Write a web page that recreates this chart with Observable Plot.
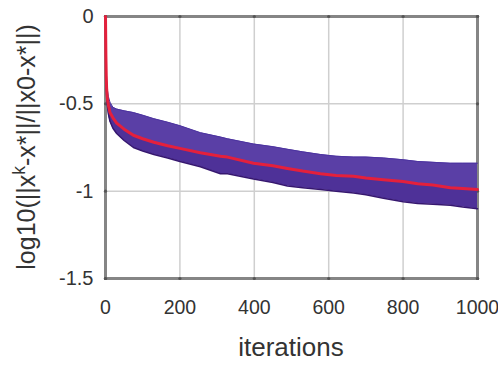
<!DOCTYPE html>
<html>
<head>
<meta charset="utf-8">
<script src="https://cdn.jsdelivr.net/npm/d3@7"></script>
<script src="https://cdn.jsdelivr.net/npm/@observablehq/plot@0.6"></script>
<style>
  html, body { margin: 0; padding: 0; background: white; }
  svg { display: block; }
</style>
</head>
<body>
<script>
// ---- data ----
const iterations = [0, 1, 2, 3, 5, 8, 12, 20, 30, 50, 75, 100, 130, 167, 200, 255, 309, 328, 398, 450, 489, 530, 578, 620, 667, 700, 747, 800, 839, 880, 927, 960, 1000];
const meanErr  = [0, -0.22, -0.34, -0.41, -0.47, -0.51, -0.55, -0.58, -0.61, -0.645, -0.68, -0.70, -0.72, -0.74, -0.755, -0.78, -0.80, -0.805, -0.84, -0.855, -0.87, -0.885, -0.90, -0.91, -0.915, -0.925, -0.935, -0.945, -0.957, -0.965, -0.98, -0.985, -0.99];
const upperErr = [0, -0.15, -0.28, -0.36, -0.42, -0.46, -0.49, -0.52, -0.53, -0.54, -0.55, -0.565, -0.585, -0.605, -0.625, -0.665, -0.69, -0.70, -0.73, -0.745, -0.76, -0.775, -0.79, -0.80, -0.805, -0.805, -0.81, -0.82, -0.83, -0.835, -0.84, -0.84, -0.84];
const lowerErr = [0, -0.30, -0.40, -0.45, -0.51, -0.56, -0.60, -0.64, -0.67, -0.71, -0.75, -0.77, -0.79, -0.81, -0.83, -0.86, -0.90, -0.90, -0.93, -0.95, -0.97, -0.98, -0.99, -1.00, -1.01, -1.02, -1.04, -1.06, -1.07, -1.075, -1.08, -1.09, -1.10];

const xTicks = [0, 200, 400, 600, 800, 1000];
const xTickLabels = ["0", "200", "400", "600", "800", "1000"];
const yTicks = [-1.5, -1, -0.5, 0];
const yTickLabels = ["-1.5", "-1", "-0.5", "0"];
const xTitle = "iterations";
const yTitleParts = ["log10(||x", "k", "-x*||/||x0-x*||)"];

const rows = iterations.map((it, i) => ({it, mean: meanErr[i], lo: lowerErr[i], hi: upperErr[i]}));
const font = "Liberation Sans, Arial, sans-serif";

const plot = Plot.plot({
  width: 498,
  height: 365,
  marginTop: 16,
  marginRight: 21,
  marginBottom: 87,
  marginLeft: 105,
  style: {background: "white", fontFamily: font, color: "#333"},
  x: {domain: [0, 1000]},
  y: {domain: [-1.5, 0]},
  marks: [
    Plot.gridX(xTicks, {stroke: "#cfcfcf", strokeOpacity: 1, strokeWidth: 1.5}),
    Plot.gridY(yTicks, {stroke: "#cfcfcf", strokeOpacity: 1, strokeWidth: 1.5}),
    Plot.frame({stroke: "#858585", strokeWidth: 3}),
    Plot.dot(xTicks, {x: d => d, y: -1.5, r: 1.6, fill: "#555", stroke: null}),
    Plot.dot(xTicks, {x: d => d, y: 0, r: 1.6, fill: "#555", stroke: null}),
    Plot.dot(yTicks, {x: 0, y: d => d, r: 1.6, fill: "#555", stroke: null}),
    Plot.dot(yTicks, {x: 1000, y: d => d, r: 1.6, fill: "#555", stroke: null}),
    Plot.axisX(xTicks, {tickSize: 0, tickPadding: 22, fontSize: 19.5, fill: "#333", label: null,
      tickFormat: d => xTickLabels[xTicks.indexOf(d)]}),
    Plot.axisY(yTicks, {tickSize: 0, tickPadding: 12, fontSize: 20, fill: "#333", label: null,
      tickFormat: d => yTickLabels[yTicks.indexOf(d)]}),
    Plot.areaY(rows, {x: "it", y1: "lo", y2: "hi", fill: "#5a3fa6", curve: "linear"}),
    Plot.areaY(rows, {x: "it", y1: "lo", y2: "mean", fill: "#45278d", fillOpacity: 0.55, curve: "linear"}),
    Plot.line(rows, {x: "it", y: "lo", stroke: "#36176f", strokeWidth: 1.5}),
    Plot.line(rows, {x: "it", y: "hi", stroke: "#4c33a0", strokeWidth: 1}),
    Plot.line(rows, {x: "it", y: "mean", stroke: "#e4203c", strokeWidth: 3})
  ]
});

document.body.appendChild(plot);

const xs = plot.scale("x"), ys = plot.scale("y");
const svg = d3.select(plot);
svg.append("text")
  .attr("x", (xs.apply(0) + xs.apply(1000)) / 2)
  .attr("y", ys.apply(-1.5) + 78)
  .attr("text-anchor", "middle")
  .attr("font-family", font)
  .attr("font-size", 26)
  .attr("fill", "#333")
  .text(xTitle);

const yt = svg.append("text")
  .attr("transform", `translate(35,${ys.apply(-0.75)}) rotate(-90)`)
  .attr("text-anchor", "middle")
  .attr("font-family", font)
  .attr("font-size", 25)
  .attr("fill", "#333");
yt.append("tspan").text(yTitleParts[0]);
yt.append("tspan").attr("dy", "-0.6em").attr("font-size", "0.7em").text(yTitleParts[1]);
yt.append("tspan").attr("dy", "0.42em").text(yTitleParts[2]);
</script>
</body>
</html>
